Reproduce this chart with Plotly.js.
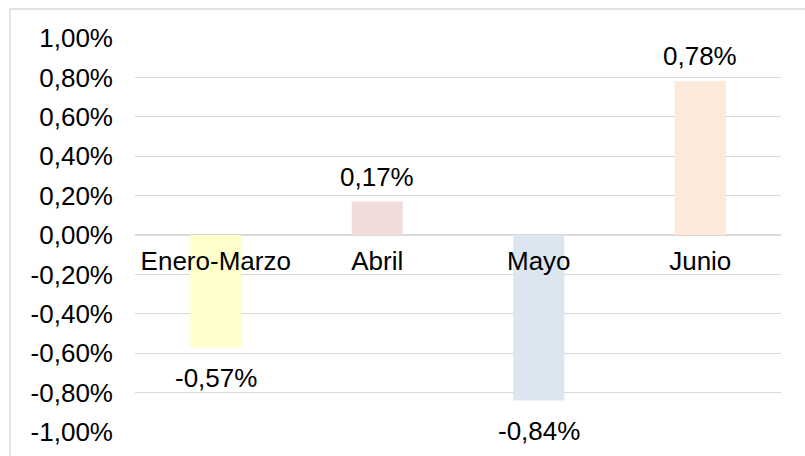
<!DOCTYPE html>
<html>
<head>
<meta charset="utf-8">
<script src="https://cdn.plot.ly/plotly-3.0.1.min.js"></script>
<style>
  html, body { margin: 0; padding: 0; background: #ffffff; }
  #chart { width: 805px; height: 456px; }
</style>
</head>
<body>
<div id="chart"></div>
<script>
// Data (percent units)
const categories = ["Enero-Marzo", "Abril", "Mayo", "Junio"];
const values = [-0.57, 0.17, -0.84, 0.78];
const barColors = ["#FFFFCC", "#F2DCDB", "#DCE6F1", "#FDE9D9"];
const yTickValues = [-1.0, -0.8, -0.6, -0.4, -0.2, 0, 0.2, 0.4, 0.6, 0.8, 1.0];

const fontFamily = "Liberation Sans, Arial, sans-serif";
const textColor = "#000000";
const gridColor = "#D9D9D9";

function fmt(v) {
  return v.toFixed(2).replace('.', ',') + '%';
}

const trace = {
  type: 'bar',
  x: categories,
  y: values,
  marker: { color: barColors, line: { width: 0 } },
  width: 0.316,
  hoverinfo: 'skip'
};

const annotations = categories.map((c, i) => ({
  x: c,
  y: values[i],
  xref: 'x',
  yref: 'y',
  text: fmt(values[i]),
  showarrow: false,
  yanchor: 'middle',
  xanchor: 'center',
  yshift: values[i] >= 0 ? 25 : -31,
  font: { family: fontFamily, size: 26, color: textColor }
}));

const layout = {
  width: 805,
  height: 456,
  margin: { l: 135, r: 24, t: 38, b: 24 },
  paper_bgcolor: '#ffffff',
  plot_bgcolor: '#ffffff',
  showlegend: false,
  separators: ',.',
  font: { family: fontFamily, size: 26, color: textColor },
  xaxis: {
    type: 'category',
    anchor: 'free',
    position: 0.5,
    showgrid: false,
    showline: false,
    zeroline: false,
    ticks: '',
    ticklabelstandoff: 8,
    tickfont: { family: fontFamily, size: 26, color: textColor },
    fixedrange: true
  },
  yaxis: {
    range: [-1.0, 1.0],
    tickvals: yTickValues,
    ticktext: yTickValues.map(v => fmt(v)),
    showgrid: true,
    gridcolor: gridColor,
    gridwidth: 1.3,
    zeroline: false,
    showline: false,
    ticks: '',
    ticklabelstandoff: 21,
    tickfont: { family: fontFamily, size: 26, color: textColor },
    fixedrange: true
  },
  annotations: annotations,
  shapes: [{
    type: 'rect',
    xref: 'paper', yref: 'paper',
    x0: -0.1935, x1: 1.2,
    y0: -0.2, y1: 1.0736,
    line: { color: gridColor, width: 1.3 },
    fillcolor: 'rgba(0,0,0,0)',
    layer: 'below'
  }]
};

Plotly.newPlot('chart', [trace], layout, { staticPlot: true, displayModeBar: false });
</script>
</body>
</html>
